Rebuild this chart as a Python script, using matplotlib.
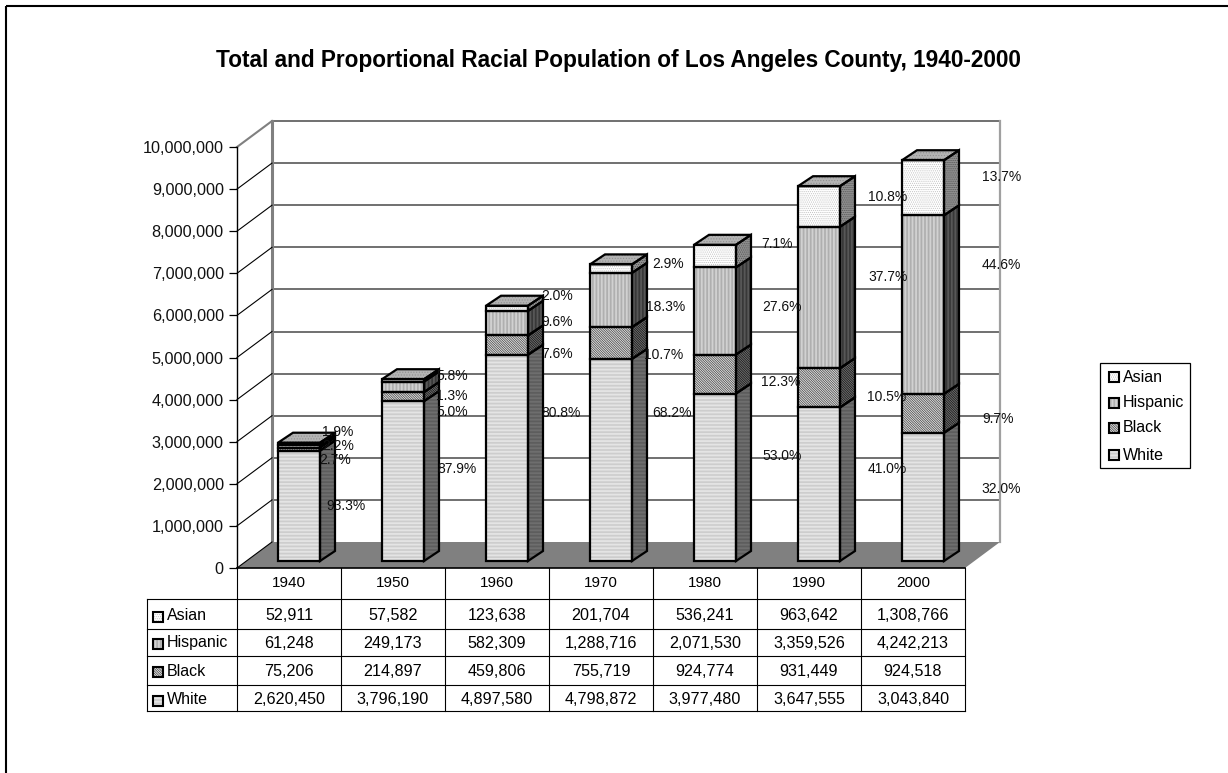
import matplotlib
matplotlib.use("Agg")
import matplotlib.pyplot as plt
from matplotlib.patches import Polygon, Rectangle

plt.rcParams['font.family'] = ['Liberation Sans', 'DejaVu Sans']
plt.rcParams['hatch.linewidth'] = 0.5

years = ['1940', '1950', '1960', '1970', '1980', '1990', '2000']
white = [2620450, 3796190, 4897580, 4798872, 3977480, 3647555, 3043840]
black = [75206, 214897, 459806, 755719, 924774, 931449, 924518]
hispanic = [61248, 249173, 582309, 1288716, 2071530, 3359526, 4242213]
asian = [52911, 57582, 123638, 201704, 536241, 963642, 1308766]

pct_white = ['93.3%', '87.9%', '80.8%', '68.2%', '53.0%', '41.0%', '32.0%']
pct_black = ['2.7%', '5.0%', '7.6%', '10.7%', '12.3%', '10.5%', '9.7%']
pct_hispanic = ['2.2%', '1.3%', '9.6%', '18.3%', '27.6%', '37.7%', '44.6%']
pct_asian = ['1.9%', '5.8%', '2.0%', '2.9%', '7.1%', '10.8%', '13.7%']

# where the labels were hand placed on the chart (pixels, centre of text)
pos_white = [(346, 506), (456.5, 469), (561, 413), (672, 413), (782, 456), (887, 469), (1001, 489)]
pos_black = [(335.5, 460), (452, 412), (557, 354), (664, 355), (781, 382), (887, 397), (998, 419)]
pos_hispanic = [(338, 446), (452, 396), (557.5, 322), (665.5, 307), (782, 307), (888, 277), (1001, 265)]
pos_asian = [(338, 432), (452, 376), (557.5, 296), (668, 264), (777, 244), (887.5, 197), (1002, 177)]

W, H = 1228, 773
fig = plt.figure(figsize=(W / 100, H / 100), dpi=100, facecolor='white')

# main axes = front plane of the old 3D excel chart
L, R, T, B = 237, 965, 147, 568
ax = fig.add_axes([L / W, 1 - B / H, (R - L) / W, (B - T) / H], zorder=1)
ax.set_xlim(0, 7)
ax.set_ylim(0, 10000000)
ax.patch.set_visible(False)

# overlay in pixel coords for frame, title, table, legend, labels
pix = fig.add_axes([0, 0, 1, 1], zorder=2)
pix.set_xlim(0, W)
pix.set_ylim(H, 0)
pix.axis('off')

# depth in data units
col_px = (R - L) / 7
val_px = (B - T) / 10000000
wall_dx, wall_dy = 35 / col_px, 26 / val_px
bar_off_x, bar_off_y = 10 / col_px, 7 / val_px
side_dx, side_dy = 15 / col_px, 10 / val_px
bar_w = 42 / col_px

# walls and floor
ticks = list(range(0, 10000001, 1000000))
ax.add_patch(Polygon([(0, 0), (wall_dx, wall_dy), (7 + wall_dx, wall_dy), (7, 0)],
                     facecolor='#808080', edgecolor='none', clip_on=False, zorder=1))
for t in ticks[1:]:
    ax.plot([wall_dx, 7 + wall_dx], [t + wall_dy, t + wall_dy], color='#707070', lw=1.4, clip_on=False, zorder=1)
for t in ticks[:-1]:
    ax.plot([0, wall_dx], [t, t + wall_dy], color='black', lw=0.8, clip_on=False, zorder=1.5)
ax.plot([0, wall_dx], [10000000, 10000000 + wall_dy], color='#808080', lw=1.5, clip_on=False, zorder=1.5)
ax.plot([wall_dx, wall_dx], [wall_dy, 10000000 + wall_dy], color='#808080', lw=2.2, clip_on=False, zorder=1)
ax.plot([7 + wall_dx, 7 + wall_dx], [wall_dy, 10000000 + wall_dy], color='#a0a0a0', lw=1.6, clip_on=False, zorder=1)

# fill, hatch colour, hatch, then same for the side face
styles = {
    'White': ('#f6f6f6', '#bcbcbc', '-' * 12, '#7c7c7c', '#505050'),
    'Black': ('#e0e0e0', '#404040', '\\' * 14, '#707070', '#101010'),
    'Hispanic': ('#ececec', '#959595', '|' * 12, '#707070', '#202020'),
    'Asian': ('#ffffff', '#c0c0c0', '.' * 8, '#909090', '#505050'),
}
series = [('White', white), ('Black', black), ('Hispanic', hispanic), ('Asian', asian)]

x = [i + 0.5 + bar_off_x for i in range(len(years))]
bottom = [bar_off_y] * len(years)
for name, vals in series:
    fc, hc, hatch, side_fc, side_hc = styles[name]
    ax.bar(x, vals, bar_w, bottom=bottom, color=fc, edgecolor=hc, hatch=hatch, linewidth=0, zorder=3, clip_on=False)
    ax.bar(x, vals, bar_w, bottom=bottom, fill=False, edgecolor='black', linewidth=1.6, zorder=3.2, clip_on=False)
    for xi, v, b in zip(x, vals, bottom):
        xr = xi + bar_w / 2
        pts = [(xr, b), (xr + side_dx, b + side_dy), (xr + side_dx, b + v + side_dy), (xr, b + v)]
        ax.add_patch(Polygon(pts, facecolor=side_fc, edgecolor=side_hc, hatch=hatch, linewidth=0, clip_on=False, zorder=3))
        ax.add_patch(Polygon(pts, fill=False, edgecolor='black', linewidth=1.6, clip_on=False, zorder=3.2))
    bottom = [b + v for b, v in zip(bottom, vals)]

# top faces
for xi, b in zip(x, bottom):
    xl = xi - bar_w / 2
    xr = xi + bar_w / 2
    pts = [(xl, b), (xl + side_dx, b + side_dy), (xr + side_dx, b + side_dy), (xr, b)]
    ax.add_patch(Polygon(pts, facecolor='#b4b4b4', edgecolor='#909090', hatch='.' * 6, linewidth=0, clip_on=False, zorder=3))
    ax.add_patch(Polygon(pts, fill=False, edgecolor='black', linewidth=1.6, clip_on=False, zorder=3.2))

# axes
for s in ['top', 'right']:
    ax.spines[s].set_visible(False)
ax.spines['left'].set_linewidth(1.0)
ax.spines['bottom'].set_linewidth(1.2)
ax.set_xticks([])
ax.set_yticks(ticks)
ax.set_yticklabels([f'{t:,}' for t in ticks], fontsize=11.7, color='#111111')
ax.tick_params(axis='y', length=6, width=0.9, pad=3.5)

# outer frame and title
pix.add_patch(Rectangle((5.5, 5.5), W + 10, H + 10, fill=False, edgecolor='black', lw=1.5))
pix.text(618, 60.5, 'Total and Proportional Racial Population of Los Angeles County, 1940-2000',
         ha='center', va='center', fontsize=16.25, fontweight='bold')

# percent labels
for labels, positions in [(pct_white, pos_white), (pct_black, pos_black),
                          (pct_hispanic, pos_hispanic), (pct_asian, pos_asian)]:
    for lab, (px, py) in zip(labels, positions):
        pix.text(px, py, lab, ha='center', va='center', fontsize=10, color='#111111')


def swatch(cx, cy, name):
    fc, hc, hatch = styles[name][:3]
    pix.add_patch(Rectangle((cx - 5, cy - 5), 10, 10, facecolor=fc, edgecolor=hc, hatch=hatch, linewidth=0))
    pix.add_patch(Rectangle((cx - 5, cy - 5), 10, 10, fill=False, edgecolor='black', linewidth=1.5))


# data table
rows_y = [568, 599, 629, 656, 685, 711]
text_y = [616, 643, 671, 700]
col_x = [L + i * col_px for i in range(8)]
tbl_left = 147
rows = [('Asian', asian), ('Hispanic', hispanic), ('Black', black), ('White', white)]

for yy in rows_y[1:]:
    pix.plot([tbl_left, R], [yy, yy], color='black', lw=0.8)
for xx in col_x:
    pix.plot([xx, xx], [rows_y[0], rows_y[-1]], color='black', lw=0.8)
pix.plot([tbl_left, tbl_left], [rows_y[1], rows_y[-1]], color='black', lw=0.8)

for i, yr in enumerate(years):
    pix.text((col_x[i] + col_x[i + 1]) / 2, 583, yr, ha='center', va='center', fontsize=11)
for cy, (name, vals) in zip(text_y, rows):
    swatch(157.5, cy + 1, name)
    pix.text(167, cy, name, ha='left', va='center', fontsize=11.5)
    for i, v in enumerate(vals):
        pix.text((col_x[i] + col_x[i + 1]) / 2, cy, f'{v:,}', ha='center', va='center', fontsize=11.6)

# legend
pix.add_patch(Rectangle((1100, 363), 90, 105, facecolor='white', edgecolor='black', lw=0.9))
for cy, (name, _) in zip([377, 403, 428, 455], rows):
    swatch(1114, cy, name)
    pix.text(1123, cy, name, ha='left', va='center', fontsize=11.5)

fig.savefig('out.png', dpi=100)
